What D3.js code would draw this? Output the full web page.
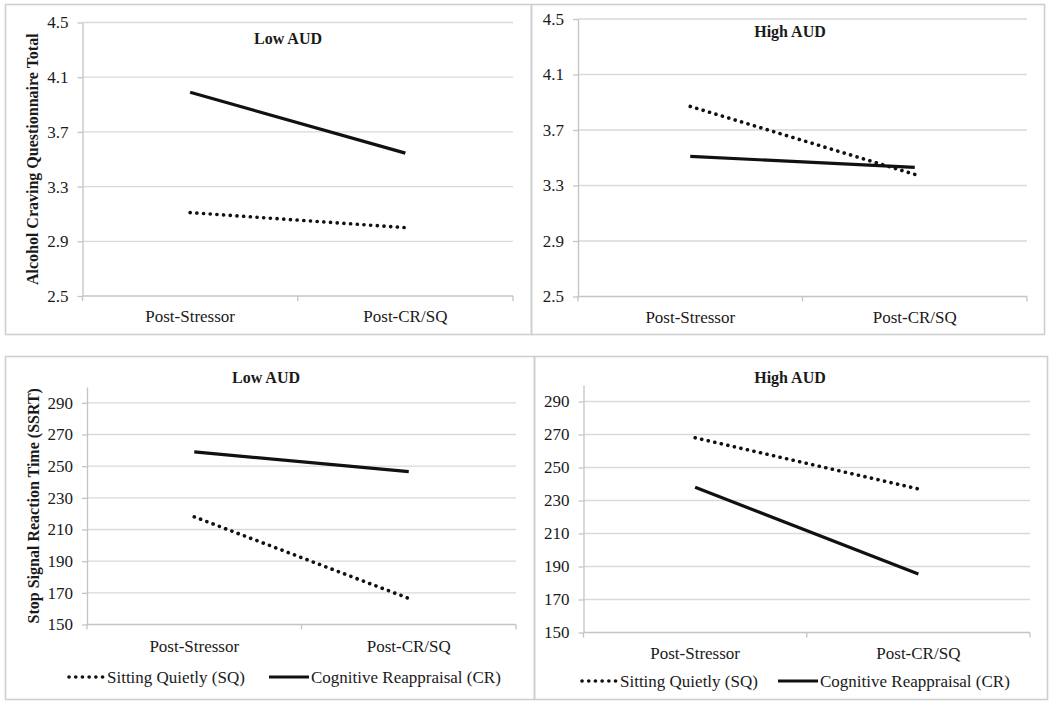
<!DOCTYPE html>
<html>
<head>
<meta charset="utf-8">
<script src="https://cdn.jsdelivr.net/npm/d3@7"></script>
<style>
  html, body { margin: 0; padding: 0; background: #fff; }
  svg text { fill: #1a1a1a; }
</style>
</head>
<body>
<svg id="chart" width="1050" height="706"></svg>
<script>
// 데이터
const categories = ["Post-Stressor", "Post-CR/SQ"];
const seriesNames = ["Sitting Quietly (SQ)", "Cognitive Reappraisal (CR)"];

const cravingTicks = [2.5, 2.9, 3.3, 3.7, 4.1, 4.5];
const ssrtTicks = [150, 170, 190, 210, 230, 250, 270, 290];

const cravingLowSQ = [3.11, 3.00];
const cravingLowCR = [3.99, 3.545];
const cravingHighSQ = [3.87, 3.38];
const cravingHighCR = [3.51, 3.43];

const ssrtLowSQ = [218, 166.5];
const ssrtLowCR = [259, 246.5];
const ssrtHighSQ = [268, 237];
const ssrtHighCR = [238, 185.5];

const FONT = '"Liberation Serif", Tinos, "Times New Roman", Times, serif';

const svg = d3.select("#chart");

// 패널 배치 (box: 테두리, plot: 플롯 영역)
const panels = [
  { box: [5, 4, 531, 334], plot: [82.5, 513, 22.5, 296], domain: [2.5, 4.5], ticks: cravingTicks, fmt: d3.format(".1f"),
    title: "Low AUD", titleX: 288, titleY: 44, sq: cravingLowSQ, cr: cravingLowCR,
    yTitle: "Alcohol Craving Questionnaire Total", yTitleX: 38, catY: 322, legend: null },
  { box: [531, 4, 1044, 334], plot: [578, 1027, 19, 296.5], domain: [2.5, 4.5], ticks: cravingTicks, fmt: d3.format(".1f"),
    title: "High AUD", titleX: 790, titleY: 37, sq: cravingHighSQ, cr: cravingHighCR,
    yTitle: null, catY: 323, legend: null },
  { box: [5, 356, 534, 699], plot: [87, 516, 387, 624.5], domain: [150, 300], ticks: ssrtTicks, fmt: d3.format("d"),
    title: "Low AUD", titleX: 266, titleY: 383, sq: ssrtLowSQ, cr: ssrtLowCR,
    yTitle: "Stop Signal Reaction Time (SSRT)", yTitleX: 39, catY: 652, legend: { y: 677, x: 67, gap: 162 } },
  { box: [534, 356, 1047, 699], plot: [583.5, 1030, 385, 632.5], domain: [150, 300], ticks: ssrtTicks, fmt: d3.format("d"),
    title: "High AUD", titleX: 790, titleY: 383, sq: ssrtHighSQ, cr: ssrtHighCR,
    yTitle: null, catY: 659, legend: { y: 681, x: 580, gap: 158 } }
];

const gridColor = "#d9d9d9";
const axisColor = "#c4c4c4";

// 텍스트 공통 스타일
function txt(sel, size, bold) {
  return sel.style("font-family", FONT)
    .style("font-size", size + "px")
    .style("font-weight", bold ? "bold" : "normal")
    .style("fill", "#1a1a1a");
}

function drawPanel(p) {
  const [bx0, by0, bx1, by1] = p.box;
  const [px0, px1, py0, py1] = p.plot;
  const g = svg.append("g");

  // 테두리
  g.append("rect")
    .attr("x", bx0 + 0.5).attr("y", by0 + 0.5)
    .attr("width", bx1 - bx0).attr("height", by1 - by0)
    .attr("fill", "none").attr("stroke", "#cfcfcf").attr("stroke-width", 1.6);

  const x = d3.scaleBand().domain(categories).range([px0, px1]).padding(0);
  const y = d3.scaleLinear().domain(p.domain).range([py1, py0]);

  // 그리드
  g.append("g").selectAll("line")
    .data(p.ticks.filter(t => t !== p.domain[0]))
    .join("line")
    .attr("x1", px0).attr("x2", px1)
    .attr("y1", d => y(d)).attr("y2", d => y(d))
    .attr("stroke", gridColor).attr("stroke-width", 1.3);

  // y축
  const yAxis = g.append("g")
    .attr("transform", `translate(${px0},0)`)
    .call(d3.axisLeft(y).tickValues(p.ticks).tickFormat(p.fmt).tickSize(5).tickSizeOuter(0).tickPadding(9));
  yAxis.attr("font-family", null).attr("font-size", null);
  yAxis.select(".domain").attr("stroke", axisColor).attr("stroke-width", 1.3);
  yAxis.selectAll(".tick line").attr("stroke", axisColor).attr("stroke-width", 1.3);
  txt(yAxis.selectAll(".tick text"), 17, false);

  // x축
  g.append("line")
    .attr("x1", px0).attr("x2", px1).attr("y1", py1).attr("y2", py1)
    .attr("stroke", axisColor).attr("stroke-width", 1.3);
  g.append("g").selectAll("line")
    .data(d3.range(categories.length + 1))
    .join("line")
    .attr("x1", i => px0 + i * x.step()).attr("x2", i => px0 + i * x.step())
    .attr("y1", py1).attr("y2", py1 + 5)
    .attr("stroke", axisColor).attr("stroke-width", 1.3);
  txt(g.append("g").selectAll("text")
    .data(categories)
    .join("text")
    .attr("x", d => x(d) + x.bandwidth() / 2)
    .attr("y", p.catY)
    .attr("text-anchor", "middle")
    .text(d => d), 17, false);

  // 제목
  txt(g.append("text")
    .attr("x", p.titleX).attr("y", p.titleY)
    .attr("text-anchor", "middle")
    .text(p.title), 16, true);

  if (p.yTitle) {
    txt(g.append("text")
      .attr("transform", `translate(${p.yTitleX},${(py0 + py1) / 2}) rotate(-90)`)
      .attr("text-anchor", "middle")
      .text(p.yTitle), 16, true);
  }

  // 선
  const line = d3.line()
    .x((d, i) => x(categories[i]) + x.bandwidth() / 2)
    .y(d => y(d));

  g.append("path")
    .datum(p.cr)
    .attr("d", line)
    .attr("fill", "none").attr("stroke", "#111").attr("stroke-width", 3.2);

  g.append("path")
    .datum(p.sq)
    .attr("d", line)
    .attr("fill", "none").attr("stroke", "#111").attr("stroke-width", 3.6)
    .attr("stroke-linecap", "round").attr("stroke-dasharray", "0.1 6.6");

  // 범례
  if (p.legend) {
    const L = p.legend;
    const lg = g.append("g");
    lg.append("line")
      .attr("x1", L.x + 2).attr("x2", L.x + 38).attr("y1", L.y).attr("y2", L.y)
      .attr("stroke", "#111").attr("stroke-width", 3.6)
      .attr("stroke-linecap", "round").attr("stroke-dasharray", "0.1 6.6");
    txt(lg.append("text")
      .attr("x", L.x + 40).attr("y", L.y + 6)
      .text(seriesNames[0]), 17, false);
    lg.append("line")
      .attr("x1", L.x + 40 + L.gap).attr("x2", L.x + 40 + L.gap + 40).attr("y1", L.y).attr("y2", L.y)
      .attr("stroke", "#111").attr("stroke-width", 3);
    txt(lg.append("text")
      .attr("x", L.x + 82 + L.gap).attr("y", L.y + 6)
      .text(seriesNames[1]), 17, false);
  }
}

panels.forEach(drawPanel);
</script>
</body>
</html>
